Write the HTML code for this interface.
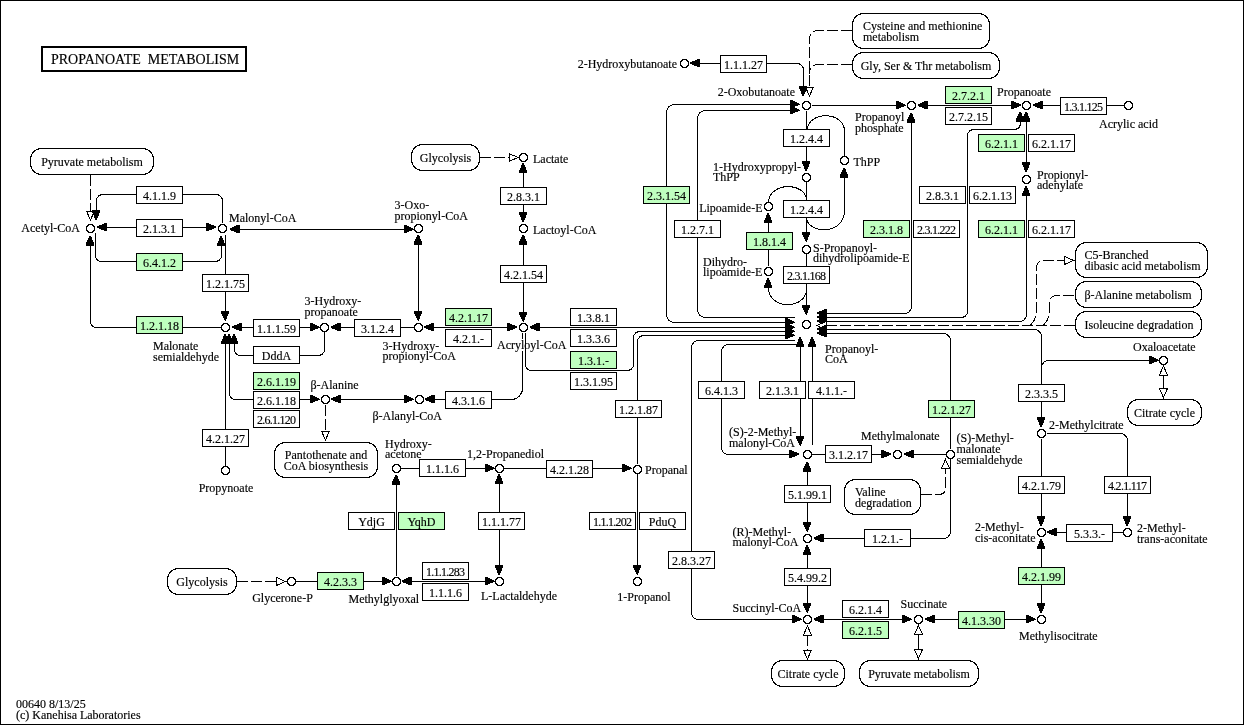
<!DOCTYPE html>
<html><head><meta charset="utf-8"><title>Propanoate metabolism</title>
<style>
html,body{margin:0;padding:0;background:#fff;}
svg{display:block;will-change:transform;}
svg text{font-family:"Liberation Serif",serif;font-size:12px;fill:#000;stroke:#000;stroke-width:0.15px;}
</style></head><body>
<svg width="1244" height="725" viewBox="0 0 1244 725">
<g shape-rendering="crispEdges">
<rect x="0.5" y="0.5" width="1243" height="724" fill="#fff" stroke="#000"/>
<rect x="41.5" y="46.5" width="204" height="24" fill="#fff" stroke="#000" stroke-width="2"/>
<rect x="30.5" y="148.5" width="123" height="26" rx="11" ry="11" fill="#fff" stroke="#000"/>
<path d="M90.5,175 L90.5,211" fill="none" stroke="#000" stroke-dasharray="11 3"/>
<polygon points="90.5,220 86.5,211 94.5,211" fill="#fff" stroke="#000"/>
<path d="M136,194.5 L103.50,194.50 Q96.5,194.5 96.50,201.50 L96.5,212" fill="none" stroke="#000"/>
<polygon points="95.6,220 92.0,212 92.0,210 100.0,210 100.0,212 96.9,220" fill="#000"/>
<path d="M183,194.5 L215.50,194.50 Q222.5,194.5 222.50,201.50 L222.5,223" fill="none" stroke="#000"/>
<rect x="136.5" y="186.5" width="46" height="17" fill="#fff" stroke="#000"/>
<path d="M100,227.5 L213,227.5" fill="none" stroke="#000"/>
<polygon points="97,226.6 105,223.0 107,223.0 107,231.0 105,231.0 97,227.9" fill="#000"/>
<polygon points="216,226.6 208,223.0 206,223.0 206,231.0 208,231.0 216,227.9" fill="#000"/>
<rect x="136.5" y="219.5" width="46" height="17" fill="#fff" stroke="#000"/>
<path d="M95.5,233 L95.50,254.50 Q95.5,261.5 102.50,261.50 L214.50,261.50 Q221.5,261.5 221.50,254.50 L221.5,244" fill="none" stroke="#000"/>
<polygon points="220.6,236 217.0,244 217.0,246 225.0,246 225.0,244 221.9,236" fill="#000"/>
<rect x="136.5" y="253.5" width="46" height="17" fill="#bfffbf" stroke="#000"/>
<path d="M90.5,244 L90.50,320.50 Q90.5,327.5 97.50,327.50 L221,327.5" fill="none" stroke="#000"/>
<polygon points="89.6,235.5 86.0,243.5 86.0,245.5 94.0,245.5 94.0,243.5 90.9,235.5" fill="#000"/>
<rect x="136.5" y="316.5" width="46" height="17" fill="#bfffbf" stroke="#000"/>
<path d="M235,229.5 L407,229.5" fill="none" stroke="#000"/>
<polygon points="229.5,228.6 237.5,225.0 239.5,225.0 239.5,233.0 237.5,233.0 229.5,229.9" fill="#000"/>
<polygon points="413.5,228.6 405.5,225.0 403.5,225.0 403.5,233.0 405.5,233.0 413.5,229.9" fill="#000"/>
<path d="M225.5,235 L225.5,312" fill="none" stroke="#000"/>
<polygon points="224.6,320.5 221.0,312.5 221.0,310.5 229.0,310.5 229.0,312.5 225.9,320.5" fill="#000"/>
<rect x="202.5" y="274.5" width="46" height="17" fill="#fff" stroke="#000"/>
<polygon points="88,224 93,224 93,225 94,225 94,226 95,226 95,231 94,231 94,232 93,232 93,233 88,233 88,232 87,232 87,231 86,231 86,226 87,226 87,225 88,225" fill="#000"/><polygon points="89,225 92,225 92,226 93,226 93,227 94,227 94,230 93,230 93,231 92,231 92,232 89,232 89,231 88,231 88,230 87,230 87,227 88,227 88,226 89,226" fill="#fff"/>
<polygon points="220,224 225,224 225,225 226,225 226,226 227,226 227,231 226,231 226,232 225,232 225,233 220,233 220,232 219,232 219,231 218,231 218,226 219,226 219,225 220,225" fill="#000"/><polygon points="221,225 224,225 224,226 225,226 225,227 226,227 226,230 225,230 225,231 224,231 224,232 221,232 221,231 220,231 220,230 219,230 219,227 220,227 220,226 221,226" fill="#fff"/>
<polygon points="416,224 421,224 421,225 422,225 422,226 423,226 423,231 422,231 422,232 421,232 421,233 416,233 416,232 415,232 415,231 414,231 414,226 415,226 415,225 416,225" fill="#000"/><polygon points="417,225 420,225 420,226 421,226 421,227 422,227 422,230 421,230 421,231 420,231 420,232 417,232 417,231 416,231 416,230 415,230 415,227 416,227 416,226 417,226" fill="#fff"/>
<path d="M238,327.5 L313,327.5" fill="none" stroke="#000"/>
<polygon points="232,326.6 240,323.0 242,323.0 242,331.0 240,331.0 232,327.9" fill="#000"/>
<polygon points="319.5,326.6 311.5,323.0 309.5,323.0 309.5,331.0 311.5,331.0 319.5,327.9" fill="#000"/>
<rect x="253.5" y="319.5" width="46" height="17" fill="#fff" stroke="#000"/>
<path d="M337,327.5 L414,327.5" fill="none" stroke="#000"/>
<polygon points="330.5,326.6 338.5,323.0 340.5,323.0 340.5,331.0 338.5,331.0 330.5,327.9" fill="#000"/>
<rect x="354.5" y="319.5" width="46" height="17" fill="#fff" stroke="#000"/>
<path d="M418.5,242 L418.5,312" fill="none" stroke="#000"/>
<polygon points="417.6,234.5 414.0,242.5 414.0,244.5 422.0,244.5 422.0,242.5 418.9,234.5" fill="#000"/>
<polygon points="417.6,320.5 414.0,312.5 414.0,310.5 422.0,310.5 422.0,312.5 418.9,320.5" fill="#000"/>
<path d="M430,327.5 L511,327.5" fill="none" stroke="#000"/>
<polygon points="424,326.6 432,323.0 434,323.0 434,331.0 432,331.0 424,327.9" fill="#000"/>
<polygon points="517,326.6 509,323.0 507,323.0 507,331.0 509,331.0 517,327.9" fill="#000"/>
<rect x="445.5" y="308.5" width="46" height="17" fill="#bfffbf" stroke="#000"/>
<rect x="445.5" y="329.5" width="46" height="17" fill="#fff" stroke="#000"/>
<path d="M324.5,332 L324.50,348.50 Q324.5,355.5 317.50,355.50 L241.50,355.50 Q234.5,355.5 234.50,348.50 L234.5,342" fill="none" stroke="#000"/>
<polygon points="233.6,334 230.0,342 230.0,344 238.0,344 238.0,342 234.9,334" fill="#000"/>
<rect x="253.5" y="346.5" width="46" height="17" fill="#fff" stroke="#000"/>
<path d="M229.5,342 L229.50,392.50 Q229.5,399.5 236.50,399.50 L313,399.5" fill="none" stroke="#000"/>
<polygon points="228.6,334 225.0,342 225.0,344 233.0,344 233.0,342 229.9,334" fill="#000"/>
<polygon points="319.5,398.6 311.5,395.0 309.5,395.0 309.5,403.0 311.5,403.0 319.5,399.9" fill="#000"/>
<rect x="253.5" y="372.5" width="46" height="17" fill="#bfffbf" stroke="#000"/>
<rect x="253.5" y="391.5" width="46" height="17" fill="#fff" stroke="#000"/>
<rect x="253.5" y="410.5" width="46" height="17" fill="#fff" stroke="#000"/>
<path d="M337,399.5 L407,399.5" fill="none" stroke="#000"/>
<polygon points="331,398.6 339,395.0 341,395.0 341,403.0 339,403.0 331,399.9" fill="#000"/>
<polygon points="413.5,398.6 405.5,395.0 403.5,395.0 403.5,403.0 405.5,403.0 413.5,399.9" fill="#000"/>
<path d="M430,399.5 L511.40,399.50 Q516,399.5 519.25,396.25 L519.25,396.25 Q522.5,393 522.50,388.40 L522.5,333" fill="none" stroke="#000"/>
<polygon points="424.5,398.6 432.5,395.0 434.5,395.0 434.5,403.0 432.5,403.0 424.5,399.9" fill="#000"/>
<rect x="445.5" y="391.5" width="46" height="17" fill="#fff" stroke="#000"/>
<path d="M225.5,342 L225.5,466" fill="none" stroke="#000"/>
<polygon points="224.6,334 221.0,342 221.0,344 229.0,344 229.0,342 225.9,334" fill="#000"/>
<rect x="202.5" y="429.5" width="46" height="17" fill="#fff" stroke="#000"/>
<path d="M325.5,405 L325.5,431" fill="none" stroke="#000" stroke-dasharray="11 3"/>
<polygon points="325.5,440 321.5,431 329.5,431" fill="#fff" stroke="#000"/>
<rect x="274.5" y="442.5" width="103" height="35" rx="11" ry="11" fill="#fff" stroke="#000"/>
<polygon points="223,323 228,323 228,324 229,324 229,325 230,325 230,330 229,330 229,331 228,331 228,332 223,332 223,331 222,331 222,330 221,330 221,325 222,325 222,324 223,324" fill="#000"/><polygon points="224,324 227,324 227,325 228,325 228,326 229,326 229,329 228,329 228,330 227,330 227,331 224,331 224,330 223,330 223,329 222,329 222,326 223,326 223,325 224,325" fill="#fff"/>
<polygon points="322,323 327,323 327,324 328,324 328,325 329,325 329,330 328,330 328,331 327,331 327,332 322,332 322,331 321,331 321,330 320,330 320,325 321,325 321,324 322,324" fill="#000"/><polygon points="323,324 326,324 326,325 327,325 327,326 328,326 328,329 327,329 327,330 326,330 326,331 323,331 323,330 322,330 322,329 321,329 321,326 322,326 322,325 323,325" fill="#fff"/>
<polygon points="416,323 421,323 421,324 422,324 422,325 423,325 423,330 422,330 422,331 421,331 421,332 416,332 416,331 415,331 415,330 414,330 414,325 415,325 415,324 416,324" fill="#000"/><polygon points="417,324 420,324 420,325 421,325 421,326 422,326 422,329 421,329 421,330 420,330 420,331 417,331 417,330 416,330 416,329 415,329 415,326 416,326 416,325 417,325" fill="#fff"/>
<polygon points="521,323 526,323 526,324 527,324 527,325 528,325 528,330 527,330 527,331 526,331 526,332 521,332 521,331 520,331 520,330 519,330 519,325 520,325 520,324 521,324" fill="#000"/><polygon points="522,324 525,324 525,325 526,325 526,326 527,326 527,329 526,329 526,330 525,330 525,331 522,331 522,330 521,330 521,329 520,329 520,326 521,326 521,325 522,325" fill="#fff"/>
<rect x="515" y="339" width="16" height="12" fill="#fff"/>
<polygon points="323,395 328,395 328,396 329,396 329,397 330,397 330,402 329,402 329,403 328,403 328,404 323,404 323,403 322,403 322,402 321,402 321,397 322,397 322,396 323,396" fill="#000"/><polygon points="324,396 327,396 327,397 328,397 328,398 329,398 329,401 328,401 328,402 327,402 327,403 324,403 324,402 323,402 323,401 322,401 322,398 323,398 323,397 324,397" fill="#fff"/>
<polygon points="417,395 422,395 422,396 423,396 423,397 424,397 424,402 423,402 423,403 422,403 422,404 417,404 417,403 416,403 416,402 415,402 415,397 416,397 416,396 417,396" fill="#000"/><polygon points="418,396 421,396 421,397 422,397 422,398 423,398 423,401 422,401 422,402 421,402 421,403 418,403 418,402 417,402 417,401 416,401 416,398 417,398 417,397 418,397" fill="#fff"/>
<polygon points="223,466 228,466 228,467 229,467 229,468 230,468 230,473 229,473 229,474 228,474 228,475 223,475 223,474 222,474 222,473 221,473 221,468 222,468 222,467 223,467" fill="#000"/><polygon points="224,467 227,467 227,468 228,468 228,469 229,469 229,472 228,472 228,473 227,473 227,474 224,474 224,473 223,473 223,472 222,472 222,469 223,469 223,468 224,468" fill="#fff"/>
<rect x="411.5" y="144.5" width="68" height="26" rx="11" ry="11" fill="#fff" stroke="#000"/>
<path d="M480,157.5 L509,157.5" fill="none" stroke="#000" stroke-dasharray="11 3"/>
<polygon points="518,157.5 509,153.5 509,161.5" fill="#fff" stroke="#000"/>
<path d="M523.5,171 L523.5,213" fill="none" stroke="#000"/>
<polygon points="522.6,163 519.0,171 519.0,173 527.0,173 527.0,171 523.9,163" fill="#000"/>
<polygon points="522.6,222 519.0,214 519.0,212 527.0,212 527.0,214 523.9,222" fill="#000"/>
<rect x="500.5" y="187.5" width="46" height="17" fill="#fff" stroke="#000"/>
<path d="M523.5,243 L523.5,313" fill="none" stroke="#000"/>
<polygon points="522.6,234.5 519.0,242.5 519.0,244.5 527.0,244.5 527.0,242.5 523.9,234.5" fill="#000"/>
<polygon points="522.6,321.5 519.0,313.5 519.0,311.5 527.0,311.5 527.0,313.5 523.9,321.5" fill="#000"/>
<rect x="500.5" y="265.5" width="46" height="17" fill="#fff" stroke="#000"/>
<polygon points="521,153 526,153 526,154 527,154 527,155 528,155 528,160 527,160 527,161 526,161 526,162 521,162 521,161 520,161 520,160 519,160 519,155 520,155 520,154 521,154" fill="#000"/><polygon points="522,154 525,154 525,155 526,155 526,156 527,156 527,159 526,159 526,160 525,160 525,161 522,161 522,160 521,160 521,159 520,159 520,156 521,156 521,155 522,155" fill="#fff"/>
<polygon points="521,224 526,224 526,225 527,225 527,226 528,226 528,231 527,231 527,232 526,232 526,233 521,233 521,232 520,232 520,231 519,231 519,226 520,226 520,225 521,225" fill="#000"/><polygon points="522,225 525,225 525,226 526,226 526,227 527,227 527,230 526,230 526,231 525,231 525,232 522,232 522,231 521,231 521,230 520,230 520,227 521,227 521,226 522,226" fill="#fff"/>
<path d="M538,327.5 L786,327.5" fill="none" stroke="#000"/>
<polygon points="529.5,326.6 537.5,323.0 539.5,323.0 539.5,331.0 537.5,331.0 529.5,327.9" fill="#000"/>
<polygon points="794.5,326.6 786.5,323.0 784.5,323.0 784.5,331.0 786.5,331.0 794.5,327.9" fill="#000"/>
<rect x="570.5" y="308.5" width="46" height="17" fill="#fff" stroke="#000"/>
<rect x="570.5" y="329.5" width="46" height="17" fill="#fff" stroke="#000"/>
<path d="M525.5,333 L525.50,363.50 Q525.5,370.5 532.50,370.50 L626.50,370.50 Q633.5,370.5 633.50,363.50 L633.50,338.50 Q633.5,331.5 640.50,331.50 L786,331.5" fill="none" stroke="#000"/>
<polygon points="794.5,330.6 786.5,327.0 784.5,327.0 784.5,335.0 786.5,335.0 794.5,331.9" fill="#000"/>
<rect x="570.5" y="351.5" width="46" height="17" fill="#bfffbf" stroke="#000"/>
<rect x="570.5" y="372.5" width="46" height="17" fill="#fff" stroke="#000"/>
<path d="M786,335.5 L644.50,335.50 Q637.5,335.5 637.50,342.50 L637.5,464" fill="none" stroke="#000"/>
<polygon points="794.5,334.6 786.5,331.0 784.5,331.0 784.5,339.0 786.5,339.0 794.5,335.9" fill="#000"/>
<rect x="615.5" y="400.5" width="46" height="17" fill="#fff" stroke="#000"/>
<path d="M637.5,474 L637.5,566" fill="none" stroke="#000"/>
<polygon points="636.6,574.5 633.0,566.5 633.0,564.5 641.0,564.5 641.0,566.5 637.9,574.5" fill="#000"/>
<rect x="589.5" y="512.5" width="46" height="17" fill="#fff" stroke="#000"/>
<rect x="639.5" y="512.5" width="46" height="17" fill="#fff" stroke="#000"/>
<polygon points="635,465 640,465 640,466 641,466 641,467 642,467 642,472 641,472 641,473 640,473 640,474 635,474 635,473 634,473 634,472 633,472 633,467 634,467 634,466 635,466" fill="#000"/><polygon points="636,466 639,466 639,467 640,467 640,468 641,468 641,471 640,471 640,472 639,472 639,473 636,473 636,472 635,472 635,471 634,471 634,468 635,468 635,467 636,467" fill="#fff"/>
<polygon points="635,577 640,577 640,578 641,578 641,579 642,579 642,584 641,584 641,585 640,585 640,586 635,586 635,585 634,585 634,584 633,584 633,579 634,579 634,578 635,578" fill="#000"/><polygon points="636,578 639,578 639,579 640,579 640,580 641,580 641,583 640,583 640,584 639,584 639,585 636,585 636,584 635,584 635,583 634,583 634,580 635,580 635,579 636,579" fill="#fff"/>
<path d="M401,468.5 L486,468.5" fill="none" stroke="#000"/>
<polygon points="494.5,467.6 486.5,464.0 484.5,464.0 484.5,472.0 486.5,472.0 494.5,468.9" fill="#000"/>
<rect x="419.5" y="459.5" width="46" height="17" fill="#fff" stroke="#000"/>
<path d="M504,468.5 L623,468.5" fill="none" stroke="#000"/>
<polygon points="631.5,467.6 623.5,464.0 621.5,464.0 621.5,472.0 623.5,472.0 631.5,468.9" fill="#000"/>
<rect x="546.5" y="460.5" width="46" height="17" fill="#fff" stroke="#000"/>
<path d="M396.5,576 L396.5,483" fill="none" stroke="#000"/>
<polygon points="395.6,474.5 392.0,482.5 392.0,484.5 400.0,484.5 400.0,482.5 396.9,474.5" fill="#000"/>
<rect x="348.5" y="512.5" width="46" height="17" fill="#fff" stroke="#000"/>
<rect x="398.5" y="512.5" width="46" height="17" fill="#bfffbf" stroke="#000"/>
<path d="M499.5,482 L499.5,566" fill="none" stroke="#000"/>
<polygon points="498.6,474 495.0,482 495.0,484 503.0,484 503.0,482 499.9,474" fill="#000"/>
<polygon points="498.6,575 495.0,567 495.0,565 503.0,565 503.0,567 499.9,575" fill="#000"/>
<rect x="478.5" y="512.5" width="46" height="17" fill="#fff" stroke="#000"/>
<path d="M408,581.5 L488,581.5" fill="none" stroke="#000"/>
<polygon points="401.5,580.6 409.5,577.0 411.5,577.0 411.5,585.0 409.5,585.0 401.5,581.9" fill="#000"/>
<polygon points="494.5,580.6 486.5,577.0 484.5,577.0 484.5,585.0 486.5,585.0 494.5,581.9" fill="#000"/>
<rect x="422.5" y="562.5" width="46" height="17" fill="#fff" stroke="#000"/>
<rect x="422.5" y="583.5" width="46" height="17" fill="#fff" stroke="#000"/>
<path d="M296,581.5 L383,581.5" fill="none" stroke="#000"/>
<polygon points="391.5,580.6 383.5,577.0 381.5,577.0 381.5,585.0 383.5,585.0 391.5,581.9" fill="#000"/>
<rect x="317.5" y="572.5" width="46" height="17" fill="#bfffbf" stroke="#000"/>
<rect x="167.5" y="568.5" width="69" height="26" rx="11" ry="11" fill="#fff" stroke="#000"/>
<path d="M237,581.5 L277,581.5" fill="none" stroke="#000" stroke-dasharray="11 3"/>
<polygon points="285.5,581.5 276.5,577.5 276.5,585.5" fill="#fff" stroke="#000"/>
<polygon points="394,464 399,464 399,465 400,465 400,466 401,466 401,471 400,471 400,472 399,472 399,473 394,473 394,472 393,472 393,471 392,471 392,466 393,466 393,465 394,465" fill="#000"/><polygon points="395,465 398,465 398,466 399,466 399,467 400,467 400,470 399,470 399,471 398,471 398,472 395,472 395,471 394,471 394,470 393,470 393,467 394,467 394,466 395,466" fill="#fff"/>
<polygon points="497,464 502,464 502,465 503,465 503,466 504,466 504,471 503,471 503,472 502,472 502,473 497,473 497,472 496,472 496,471 495,471 495,466 496,466 496,465 497,465" fill="#000"/><polygon points="498,465 501,465 501,466 502,466 502,467 503,467 503,470 502,470 502,471 501,471 501,472 498,472 498,471 497,471 497,470 496,470 496,467 497,467 497,466 498,466" fill="#fff"/>
<polygon points="289,577 294,577 294,578 295,578 295,579 296,579 296,584 295,584 295,585 294,585 294,586 289,586 289,585 288,585 288,584 287,584 287,579 288,579 288,578 289,578" fill="#000"/><polygon points="290,578 293,578 293,579 294,579 294,580 295,580 295,583 294,583 294,584 293,584 293,585 290,585 290,584 289,584 289,583 288,583 288,580 289,580 289,579 290,579" fill="#fff"/>
<polygon points="394,577 399,577 399,578 400,578 400,579 401,579 401,584 400,584 400,585 399,585 399,586 394,586 394,585 393,585 393,584 392,584 392,579 393,579 393,578 394,578" fill="#000"/><polygon points="395,578 398,578 398,579 399,579 399,580 400,580 400,583 399,583 399,584 398,584 398,585 395,585 395,584 394,584 394,583 393,583 393,580 394,580 394,579 395,579" fill="#fff"/>
<polygon points="497,577 502,577 502,578 503,578 503,579 504,579 504,584 503,584 503,585 502,585 502,586 497,586 497,585 496,585 496,584 495,584 495,579 496,579 496,578 497,578" fill="#000"/><polygon points="498,578 501,578 501,579 502,579 502,580 503,580 503,583 502,583 502,584 501,584 501,585 498,585 498,584 497,584 497,583 496,583 496,580 497,580 497,579 498,579" fill="#fff"/>
<path d="M699,63.5 L720,63.5" fill="none" stroke="#000"/>
<polygon points="690,62.6 698,59.0 700,59.0 700,67.0 698,67.0 690,63.9" fill="#000"/>
<rect x="720.5" y="55.5" width="46" height="17" fill="#fff" stroke="#000"/>
<path d="M767,63.5 L796.50,63.50 Q803.5,63.5 803.50,70.50 L803.5,88" fill="none" stroke="#000"/>
<polygon points="802.6,96 799.0,88 799.0,86 807.0,86 807.0,88 803.9,96" fill="#000"/>
<rect x="852.5" y="13.5" width="137" height="35" rx="11" ry="11" fill="#fff" stroke="#000"/>
<rect x="852.5" y="52.5" width="147" height="26" rx="11" ry="11" fill="#fff" stroke="#000"/>
<path d="M852,30.5 L818.50,30.50 Q809.5,30.5 809.50,39.50 L809.5,88" fill="none" stroke="#000" stroke-dasharray="11 3"/>
<path d="M852,64.5 L818.50,64.50 Q809.5,64.5 809.50,73.50 L809.5,74" fill="none" stroke="#000" stroke-dasharray="11 3"/>
<polygon points="809.5,96 805.5,87 813.5,87" fill="#fff" stroke="#000"/>
<path d="M666.5,186 L666.50,113.50 Q666.5,104.5 675.50,104.50 L791,104.5" fill="none" stroke="#000"/>
<polygon points="799.5,103.6 791.5,100.0 789.5,100.0 789.5,108.0 791.5,108.0 799.5,104.9" fill="#000"/>
<path d="M666.5,203 L666.50,313.50 Q666.5,322.5 675.50,322.50 L786,322.5" fill="none" stroke="#000"/>
<polygon points="794.5,321.6 786.5,318.0 784.5,318.0 784.5,326.0 786.5,326.0 794.5,322.9" fill="#000"/>
<rect x="643.5" y="186.5" width="46" height="17" fill="#bfffbf" stroke="#000"/>
<path d="M697.5,220 L697.50,119.50 Q697.5,110.5 706.50,110.50 L791,110.5" fill="none" stroke="#000"/>
<polygon points="799.5,109.6 791.5,106.0 789.5,106.0 789.5,114.0 791.5,114.0 799.5,110.9" fill="#000"/>
<path d="M697.5,237 L697.50,308.50 Q697.5,317.5 706.50,317.50 L794.5,317.5" fill="none" stroke="#000"/>
<rect x="674.5" y="220.5" width="46" height="17" fill="#fff" stroke="#000"/>
<path d="M812,105.5 L897,105.5" fill="none" stroke="#000"/>
<polygon points="905.5,104.6 897.5,101.0 895.5,101.0 895.5,109.0 897.5,109.0 905.5,105.9" fill="#000"/>
<path d="M923,105.5 L1013,105.5" fill="none" stroke="#000"/>
<polygon points="917.5,104.6 925.5,101.0 927.5,101.0 927.5,109.0 925.5,109.0 917.5,105.9" fill="#000"/>
<polygon points="1021,104.6 1013,101.0 1011,101.0 1011,109.0 1013,109.0 1021,105.9" fill="#000"/>
<rect x="945.5" y="86.5" width="46" height="17" fill="#bfffbf" stroke="#000"/>
<rect x="945.5" y="107.5" width="46" height="17" fill="#fff" stroke="#000"/>
<path d="M1040,105.5 L1124,105.5" fill="none" stroke="#000"/>
<polygon points="1033,104.6 1041,101.0 1043,101.0 1043,109.0 1041,109.0 1033,105.9" fill="#000"/>
<rect x="1060.5" y="97.5" width="46" height="17" fill="#fff" stroke="#000"/>
<polygon points="1126,101 1131,101 1131,102 1132,102 1132,103 1133,103 1133,108 1132,108 1132,109 1131,109 1131,110 1126,110 1126,109 1125,109 1125,108 1124,108 1124,103 1125,103 1125,102 1126,102" fill="#000"/><polygon points="1127,102 1130,102 1130,103 1131,103 1131,104 1132,104 1132,107 1131,107 1131,108 1130,108 1130,109 1127,109 1127,108 1126,108 1126,107 1125,107 1125,104 1126,104 1126,103 1127,103" fill="#fff"/>
<path d="M806.5,111 L806.5,163" fill="none" stroke="#000"/>
<polygon points="805.6,171 802.0,163 802.0,161 810.0,161 810.0,163 806.9,171" fill="#000"/>
<rect x="783.5" y="129.5" width="46" height="17" fill="#fff" stroke="#000"/>
<path d="M807.5,129 C809,111 844,111 844.5,131 L844.5,156" fill="none" stroke="#000"/>
<path d="M844.5,176 L844.5,210 C844.5,236 808,234 806.5,218" fill="none" stroke="#000"/>
<polygon points="843.6,167.5 840.0,175.5 840.0,177.5 848.0,177.5 848.0,175.5 844.9,167.5" fill="#000"/>
<path d="M806.5,182 L806.5,233" fill="none" stroke="#000"/>
<polygon points="805.6,241.5 802.0,233.5 802.0,231.5 810.0,231.5 810.0,233.5 806.9,241.5" fill="#000"/>
<rect x="783.5" y="200.5" width="46" height="17" fill="#fff" stroke="#000"/>
<path d="M768.5,202 C770,182 804,182 806.5,199" fill="none" stroke="#000"/>
<path d="M768.5,266 L768.5,221" fill="none" stroke="#000"/>
<polygon points="767.6,213 764.0,221 764.0,223 772.0,223 772.0,221 768.9,213" fill="#000"/>
<rect x="746.5" y="232.5" width="46" height="17" fill="#bfffbf" stroke="#000"/>
<path d="M768.5,287 C768,310 805,310 806.5,290" fill="none" stroke="#000"/>
<polygon points="767.6,278 764.0,286 764.0,288 772.0,288 772.0,286 768.9,278" fill="#000"/>
<path d="M806.5,254 L806.5,306" fill="none" stroke="#000"/>
<polygon points="805.6,314.5 802.0,306.5 802.0,304.5 810.0,304.5 810.0,306.5 806.9,314.5" fill="#000"/>
<rect x="783.5" y="266.5" width="46" height="17" fill="#fff" stroke="#000"/>
<polygon points="682,59 687,59 687,60 688,60 688,61 689,61 689,66 688,66 688,67 687,67 687,68 682,68 682,67 681,67 681,66 680,66 680,61 681,61 681,60 682,60" fill="#000"/><polygon points="683,60 686,60 686,61 687,61 687,62 688,62 688,65 687,65 687,66 686,66 686,67 683,67 683,66 682,66 682,65 681,65 681,62 682,62 682,61 683,61" fill="#fff"/>
<polygon points="804,101 809,101 809,102 810,102 810,103 811,103 811,108 810,108 810,109 809,109 809,110 804,110 804,109 803,109 803,108 802,108 802,103 803,103 803,102 804,102" fill="#000"/><polygon points="805,102 808,102 808,103 809,103 809,104 810,104 810,107 809,107 809,108 808,108 808,109 805,109 805,108 804,108 804,107 803,107 803,104 804,104 804,103 805,103" fill="#fff"/>
<polygon points="909,101 914,101 914,102 915,102 915,103 916,103 916,108 915,108 915,109 914,109 914,110 909,110 909,109 908,109 908,108 907,108 907,103 908,103 908,102 909,102" fill="#000"/><polygon points="910,102 913,102 913,103 914,103 914,104 915,104 915,107 914,107 914,108 913,108 913,109 910,109 910,108 909,108 909,107 908,107 908,104 909,104 909,103 910,103" fill="#fff"/>
<polygon points="1024,101 1029,101 1029,102 1030,102 1030,103 1031,103 1031,108 1030,108 1030,109 1029,109 1029,110 1024,110 1024,109 1023,109 1023,108 1022,108 1022,103 1023,103 1023,102 1024,102" fill="#000"/><polygon points="1025,102 1028,102 1028,103 1029,103 1029,104 1030,104 1030,107 1029,107 1029,108 1028,108 1028,109 1025,109 1025,108 1024,108 1024,107 1023,107 1023,104 1024,104 1024,103 1025,103" fill="#fff"/>
<polygon points="804,173 809,173 809,174 810,174 810,175 811,175 811,180 810,180 810,181 809,181 809,182 804,182 804,181 803,181 803,180 802,180 802,175 803,175 803,174 804,174" fill="#000"/><polygon points="805,174 808,174 808,175 809,175 809,176 810,176 810,179 809,179 809,180 808,180 808,181 805,181 805,180 804,180 804,179 803,179 803,176 804,176 804,175 805,175" fill="#fff"/>
<polygon points="842,156 847,156 847,157 848,157 848,158 849,158 849,163 848,163 848,164 847,164 847,165 842,165 842,164 841,164 841,163 840,163 840,158 841,158 841,157 842,157" fill="#000"/><polygon points="843,157 846,157 846,158 847,158 847,159 848,159 848,162 847,162 847,163 846,163 846,164 843,164 843,163 842,163 842,162 841,162 841,159 842,159 842,158 843,158" fill="#fff"/>
<polygon points="766,202 771,202 771,203 772,203 772,204 773,204 773,209 772,209 772,210 771,210 771,211 766,211 766,210 765,210 765,209 764,209 764,204 765,204 765,203 766,203" fill="#000"/><polygon points="767,203 770,203 770,204 771,204 771,205 772,205 772,208 771,208 771,209 770,209 770,210 767,210 767,209 766,209 766,208 765,208 765,205 766,205 766,204 767,204" fill="#fff"/>
<polygon points="766,267 771,267 771,268 772,268 772,269 773,269 773,274 772,274 772,275 771,275 771,276 766,276 766,275 765,275 765,274 764,274 764,269 765,269 765,268 766,268" fill="#000"/><polygon points="767,268 770,268 770,269 771,269 771,270 772,270 772,273 771,273 771,274 770,274 770,275 767,275 767,274 766,274 766,273 765,273 765,270 766,270 766,269 767,269" fill="#fff"/>
<polygon points="804,245 809,245 809,246 810,246 810,247 811,247 811,252 810,252 810,253 809,253 809,254 804,254 804,253 803,253 803,252 802,252 802,247 803,247 803,246 804,246" fill="#000"/><polygon points="805,246 808,246 808,247 809,247 809,248 810,248 810,251 809,251 809,252 808,252 808,253 805,253 805,252 804,252 804,251 803,251 803,248 804,248 804,247 805,247" fill="#fff"/>
<path d="M911.5,121 L911.50,305.50 Q911.5,313.5 903.50,313.50 L826,313.5" fill="none" stroke="#000"/>
<polygon points="910.6,112.5 907.0,120.5 907.0,122.5 915.0,122.5 915.0,120.5 911.9,112.5" fill="#000"/>
<polygon points="817,312.6 825,309.0 827,309.0 827,317.0 825,317.0 817,313.9" fill="#000"/>
<rect x="863.5" y="220.5" width="46" height="17" fill="#bfffbf" stroke="#000"/>
<rect x="913.5" y="220.5" width="46" height="17" fill="#fff" stroke="#000"/>
<path d="M1020.5,120 L1020.50,122.50 Q1020.5,129.5 1013.50,129.50 L974.50,129.50 Q967.5,129.5 967.50,136.50 L967.50,310.50 Q967.5,317.5 960.50,317.50 L826,317.5" fill="none" stroke="#000"/>
<polygon points="1019.6,111.5 1016.0,119.5 1016.0,121.5 1024.0,121.5 1024.0,119.5 1020.9,111.5" fill="#000"/>
<polygon points="817,316.6 825,313.0 827,313.0 827,321.0 825,321.0 817,317.9" fill="#000"/>
<rect x="919.5" y="186.5" width="46" height="17" fill="#fff" stroke="#000"/>
<rect x="969.5" y="186.5" width="46" height="17" fill="#fff" stroke="#000"/>
<path d="M1026.5,120 L1026.5,163" fill="none" stroke="#000"/>
<polygon points="1025.6,111.5 1022.0,119.5 1022.0,121.5 1030.0,121.5 1030.0,119.5 1026.9,111.5" fill="#000"/>
<polygon points="1025.6,172 1022.0,164 1022.0,162 1030.0,162 1030.0,164 1026.9,172" fill="#000"/>
<rect x="978.5" y="134.5" width="46" height="17" fill="#bfffbf" stroke="#000"/>
<rect x="1028.5" y="134.5" width="46" height="17" fill="#fff" stroke="#000"/>
<path d="M1026.5,195 L1026.50,313.50 Q1026.5,321.5 1018.50,321.50 L826,321.5" fill="none" stroke="#000"/>
<polygon points="1025.6,186 1022.0,194 1022.0,196 1030.0,196 1030.0,194 1026.9,186" fill="#000"/>
<polygon points="817,320.6 825,317.0 827,317.0 827,325.0 825,325.0 817,321.9" fill="#000"/>
<rect x="978.5" y="220.5" width="46" height="17" fill="#bfffbf" stroke="#000"/>
<rect x="1028.5" y="220.5" width="46" height="17" fill="#fff" stroke="#000"/>
<polygon points="1024,175 1029,175 1029,176 1030,176 1030,177 1031,177 1031,182 1030,182 1030,183 1029,183 1029,184 1024,184 1024,183 1023,183 1023,182 1022,182 1022,177 1023,177 1023,176 1024,176" fill="#000"/><polygon points="1025,176 1028,176 1028,177 1029,177 1029,178 1030,178 1030,181 1029,181 1029,182 1028,182 1028,183 1025,183 1025,182 1024,182 1024,181 1023,181 1023,178 1024,178 1024,177 1025,177" fill="#fff"/>
<path d="M826,325.5 L1075,325.5" fill="none" stroke="#000" stroke-dasharray="11 3"/>
<polygon points="817,325.5 826,321.5 826,329.5" fill="#fff" stroke="#000"/>
<path d="M1030,325.5 L1030.84,324.66 Q1036.5,319 1036.50,311.00 L1036.50,268.50 Q1036.5,260.5 1044.50,260.50 L1064,260.5" fill="none" stroke="#000" stroke-dasharray="11 3"/>
<polygon points="1073.5,260.5 1064.5,256.5 1064.5,264.5" fill="#fff" stroke="#000"/>
<path d="M1043,325.5 L1043.84,324.66 Q1049.5,319 1049.50,311.00 L1049.50,303.50 Q1049.5,295.5 1057.50,295.50 L1075,295.5" fill="none" stroke="#000" stroke-dasharray="11 3"/>
<rect x="1075.5" y="242.5" width="132" height="35" rx="11" ry="11" fill="#fff" stroke="#000"/>
<rect x="1075.5" y="281.5" width="126" height="26" rx="11" ry="11" fill="#fff" stroke="#000"/>
<rect x="1075.5" y="311.5" width="126" height="26" rx="11" ry="11" fill="#fff" stroke="#000"/>
<path d="M826,329.5 L1033.50,329.50 Q1041.5,329.5 1041.50,337.50 L1041.5,418" fill="none" stroke="#000"/>
<polygon points="817,328.6 825,325.0 827,325.0 827,333.0 825,333.0 817,329.9" fill="#000"/>
<path d="M1041.5,372 L1041.50,368.50 Q1041.5,360.5 1049.50,360.50 L1150,360.5" fill="none" stroke="#000"/>
<polygon points="1158.5,359.6 1150.5,356.0 1148.5,356.0 1148.5,364.0 1150.5,364.0 1158.5,360.9" fill="#000"/>
<polygon points="1040.6,427 1037.0,419 1037.0,417 1045.0,417 1045.0,419 1041.9,427" fill="#000"/>
<rect x="1018.5" y="384.5" width="46" height="17" fill="#fff" stroke="#000"/>
<polygon points="1161,356 1166,356 1166,357 1167,357 1167,358 1168,358 1168,363 1167,363 1167,364 1166,364 1166,365 1161,365 1161,364 1160,364 1160,363 1159,363 1159,358 1160,358 1160,357 1161,357" fill="#000"/><polygon points="1162,357 1165,357 1165,358 1166,358 1166,359 1167,359 1167,362 1166,362 1166,363 1165,363 1165,364 1162,364 1162,363 1161,363 1161,362 1160,362 1160,359 1161,359 1161,358 1162,358" fill="#fff"/>
<polygon points="1163.5,366 1159.5,375 1167.5,375" fill="#fff" stroke="#000"/>
<path d="M1163.5,375 L1163.5,389" fill="none" stroke="#000"/>
<polygon points="1163.5,397.5 1159.5,388.5 1167.5,388.5" fill="#fff" stroke="#000"/>
<rect x="1127.5" y="399.5" width="74" height="26" rx="11" ry="11" fill="#fff" stroke="#000"/>
<path d="M826,333.5 L942.50,333.50 Q950.5,333.5 950.50,341.50 L950.5,449" fill="none" stroke="#000"/>
<polygon points="817,332.6 825,329.0 827,329.0 827,337.0 825,337.0 817,333.9" fill="#000"/>
<rect x="928.5" y="400.5" width="46" height="17" fill="#bfffbf" stroke="#000"/>
<path d="M800.5,346 L800.5,437" fill="none" stroke="#000"/>
<polygon points="799.6,337 796.0,345 796.0,347 804.0,347 804.0,345 800.9,337" fill="#000"/>
<polygon points="799.6,445.5 796.0,437.5 796.0,435.5 804.0,435.5 804.0,437.5 800.9,445.5" fill="#000"/>
<path d="M812.5,346 L812.5,445" fill="none" stroke="#000"/>
<polygon points="811.6,337 808.0,345 808.0,347 816.0,347 816.0,345 812.9,337" fill="#000"/>
<path d="M796,344.5 L729.50,344.50 Q721.5,344.5 721.50,352.50 L721.50,446.50 Q721.5,454.5 729.50,454.50 L790,454.5" fill="none" stroke="#000"/>
<polygon points="799,453.6 791,450.0 789,450.0 789,458.0 791,458.0 799,454.9" fill="#000"/>
<rect x="698.5" y="381.5" width="46" height="17" fill="#fff" stroke="#000"/>
<rect x="759.5" y="381.5" width="46" height="17" fill="#fff" stroke="#000"/>
<rect x="808.5" y="381.5" width="46" height="17" fill="#fff" stroke="#000"/>
<path d="M794.5,340.5 L699.50,340.50 Q691.5,340.5 691.50,348.50 L691.50,611.50 Q691.5,619.5 699.50,619.50 L793,619.5" fill="none" stroke="#000"/>
<polygon points="801.5,618.6 793.5,615.0 791.5,615.0 791.5,623.0 793.5,623.0 801.5,619.9" fill="#000"/>
<rect x="668.5" y="551.5" width="46" height="17" fill="#fff" stroke="#000"/>
<path d="M812,454.5 L882,454.5" fill="none" stroke="#000"/>
<polygon points="891,453.6 883,450.0 881,450.0 881,458.0 883,458.0 891,454.9" fill="#000"/>
<rect x="825.5" y="445.5" width="46" height="17" fill="#fff" stroke="#000"/>
<path d="M913,454.5 L946,454.5" fill="none" stroke="#000"/>
<polygon points="904,453.6 912,450.0 914,450.0 914,458.0 912,458.0 904,454.9" fill="#000"/>
<rect x="844.5" y="479.5" width="76" height="35" rx="11" ry="11" fill="#fff" stroke="#000"/>
<path d="M921,494.5 L938.50,494.50 Q945.5,494.5 945.50,487.50 L945.5,468" fill="none" stroke="#000" stroke-dasharray="11 3"/>
<polygon points="945.5,459.5 941.5,468.5 949.5,468.5" fill="#fff" stroke="#000"/>
<path d="M807.5,470 L807.5,523" fill="none" stroke="#000"/>
<polygon points="806.6,461.5 803.0,469.5 803.0,471.5 811.0,471.5 811.0,469.5 807.9,461.5" fill="#000"/>
<polygon points="806.6,531.5 803.0,523.5 803.0,521.5 811.0,521.5 811.0,523.5 807.9,531.5" fill="#000"/>
<rect x="784.5" y="485.5" width="46" height="17" fill="#fff" stroke="#000"/>
<path d="M822,538.5 L942.50,538.50 Q950.5,538.5 950.50,530.50 L950.5,459" fill="none" stroke="#000"/>
<polygon points="813.5,537.6 821.5,534.0 823.5,534.0 823.5,542.0 821.5,542.0 813.5,538.9" fill="#000"/>
<rect x="864.5" y="529.5" width="46" height="17" fill="#fff" stroke="#000"/>
<path d="M807.5,553 L807.5,604" fill="none" stroke="#000"/>
<polygon points="806.6,545 803.0,553 803.0,555 811.0,555 811.0,553 807.9,545" fill="#000"/>
<polygon points="806.6,612.5 803.0,604.5 803.0,602.5 811.0,602.5 811.0,604.5 807.9,612.5" fill="#000"/>
<rect x="784.5" y="568.5" width="46" height="17" fill="#fff" stroke="#000"/>
<path d="M822,619.5 L903,619.5" fill="none" stroke="#000"/>
<polygon points="813.5,618.6 821.5,615.0 823.5,615.0 823.5,623.0 821.5,623.0 813.5,619.9" fill="#000"/>
<polygon points="911.5,618.6 903.5,615.0 901.5,615.0 901.5,623.0 903.5,623.0 911.5,619.9" fill="#000"/>
<rect x="842.5" y="600.5" width="46" height="17" fill="#fff" stroke="#000"/>
<rect x="842.5" y="621.5" width="46" height="17" fill="#bfffbf" stroke="#000"/>
<path d="M933,619.5 L1027,619.5" fill="none" stroke="#000"/>
<polygon points="925,618.6 933,615.0 935,615.0 935,623.0 933,623.0 925,619.9" fill="#000"/>
<polygon points="1035.5,618.6 1027.5,615.0 1025.5,615.0 1025.5,623.0 1027.5,623.0 1035.5,619.9" fill="#000"/>
<rect x="958.5" y="611.5" width="46" height="17" fill="#bfffbf" stroke="#000"/>
<polygon points="807.5,626 803.5,635 811.5,635" fill="#fff" stroke="#000"/>
<path d="M807.5,635 L807.5,650" fill="none" stroke="#000" stroke-dasharray="11 3"/>
<polygon points="807.5,659 803.5,650 811.5,650" fill="#fff" stroke="#000"/>
<rect x="771.5" y="660.5" width="73" height="26" rx="11" ry="11" fill="#fff" stroke="#000"/>
<polygon points="918.5,625.5 914.5,634.5 922.5,634.5" fill="#fff" stroke="#000"/>
<path d="M918.5,634 L918.5,649" fill="none" stroke="#000"/>
<polygon points="918.5,658.5 914.5,649.5 922.5,649.5" fill="#fff" stroke="#000"/>
<rect x="859.5" y="660.5" width="119" height="26" rx="11" ry="11" fill="#fff" stroke="#000"/>
<path d="M1041.5,439 L1041.5,517" fill="none" stroke="#000"/>
<polygon points="1040.6,526 1037.0,518 1037.0,516 1045.0,516 1045.0,518 1041.9,526" fill="#000"/>
<rect x="1018.5" y="476.5" width="46" height="17" fill="#fff" stroke="#000"/>
<path d="M1047,433.5 L1119.50,433.50 Q1127.5,433.5 1127.50,441.50 L1127.5,517" fill="none" stroke="#000"/>
<polygon points="1126.6,526 1123.0,518 1123.0,516 1131.0,516 1131.0,518 1127.9,526" fill="#000"/>
<rect x="1104.5" y="476.5" width="46" height="17" fill="#fff" stroke="#000"/>
<path d="M1055,532.5 L1123,532.5" fill="none" stroke="#000"/>
<polygon points="1047,531.6 1055,528.0 1057,528.0 1057,536.0 1055,536.0 1047,532.9" fill="#000"/>
<rect x="1066.5" y="524.5" width="46" height="17" fill="#fff" stroke="#000"/>
<path d="M1041.5,548 L1041.5,604" fill="none" stroke="#000"/>
<polygon points="1040.6,539 1037.0,547 1037.0,549 1045.0,549 1045.0,547 1041.9,539" fill="#000"/>
<polygon points="1040.6,613 1037.0,605 1037.0,603 1045.0,603 1045.0,605 1041.9,613" fill="#000"/>
<rect x="1018.5" y="567.5" width="46" height="17" fill="#bfffbf" stroke="#000"/>
<polygon points="804,320 809,320 809,321 810,321 810,322 811,322 811,327 810,327 810,328 809,328 809,329 804,329 804,328 803,328 803,327 802,327 802,322 803,322 803,321 804,321" fill="#000"/><polygon points="805,321 808,321 808,322 809,322 809,323 810,323 810,326 809,326 809,327 808,327 808,328 805,328 805,327 804,327 804,326 803,326 803,323 804,323 804,322 805,322" fill="#fff"/>
<polygon points="1039,429 1044,429 1044,430 1045,430 1045,431 1046,431 1046,436 1045,436 1045,437 1044,437 1044,438 1039,438 1039,437 1038,437 1038,436 1037,436 1037,431 1038,431 1038,430 1039,430" fill="#000"/><polygon points="1040,430 1043,430 1043,431 1044,431 1044,432 1045,432 1045,435 1044,435 1044,436 1043,436 1043,437 1040,437 1040,436 1039,436 1039,435 1038,435 1038,432 1039,432 1039,431 1040,431" fill="#fff"/>
<polygon points="805,450 810,450 810,451 811,451 811,452 812,452 812,457 811,457 811,458 810,458 810,459 805,459 805,458 804,458 804,457 803,457 803,452 804,452 804,451 805,451" fill="#000"/><polygon points="806,451 809,451 809,452 810,452 810,453 811,453 811,456 810,456 810,457 809,457 809,458 806,458 806,457 805,457 805,456 804,456 804,453 805,453 805,452 806,452" fill="#fff"/>
<polygon points="895,450 900,450 900,451 901,451 901,452 902,452 902,457 901,457 901,458 900,458 900,459 895,459 895,458 894,458 894,457 893,457 893,452 894,452 894,451 895,451" fill="#000"/><polygon points="896,451 899,451 899,452 900,452 900,453 901,453 901,456 900,456 900,457 899,457 899,458 896,458 896,457 895,457 895,456 894,456 894,453 895,453 895,452 896,452" fill="#fff"/>
<polygon points="948,450 953,450 953,451 954,451 954,452 955,452 955,457 954,457 954,458 953,458 953,459 948,459 948,458 947,458 947,457 946,457 946,452 947,452 947,451 948,451" fill="#000"/><polygon points="949,451 952,451 952,452 953,452 953,453 954,453 954,456 953,456 953,457 952,457 952,458 949,458 949,457 948,457 948,456 947,456 947,453 948,453 948,452 949,452" fill="#fff"/>
<polygon points="805,534 810,534 810,535 811,535 811,536 812,536 812,541 811,541 811,542 810,542 810,543 805,543 805,542 804,542 804,541 803,541 803,536 804,536 804,535 805,535" fill="#000"/><polygon points="806,535 809,535 809,536 810,536 810,537 811,537 811,540 810,540 810,541 809,541 809,542 806,542 806,541 805,541 805,540 804,540 804,537 805,537 805,536 806,536" fill="#fff"/>
<polygon points="1039,528 1044,528 1044,529 1045,529 1045,530 1046,530 1046,535 1045,535 1045,536 1044,536 1044,537 1039,537 1039,536 1038,536 1038,535 1037,535 1037,530 1038,530 1038,529 1039,529" fill="#000"/><polygon points="1040,529 1043,529 1043,530 1044,530 1044,531 1045,531 1045,534 1044,534 1044,535 1043,535 1043,536 1040,536 1040,535 1039,535 1039,534 1038,534 1038,531 1039,531 1039,530 1040,530" fill="#fff"/>
<polygon points="1125,528 1130,528 1130,529 1131,529 1131,530 1132,530 1132,535 1131,535 1131,536 1130,536 1130,537 1125,537 1125,536 1124,536 1124,535 1123,535 1123,530 1124,530 1124,529 1125,529" fill="#000"/><polygon points="1126,529 1129,529 1129,530 1130,530 1130,531 1131,531 1131,534 1130,534 1130,535 1129,535 1129,536 1126,536 1126,535 1125,535 1125,534 1124,534 1124,531 1125,531 1125,530 1126,530" fill="#fff"/>
<polygon points="1039,615 1044,615 1044,616 1045,616 1045,617 1046,617 1046,622 1045,622 1045,623 1044,623 1044,624 1039,624 1039,623 1038,623 1038,622 1037,622 1037,617 1038,617 1038,616 1039,616" fill="#000"/><polygon points="1040,616 1043,616 1043,617 1044,617 1044,618 1045,618 1045,621 1044,621 1044,622 1043,622 1043,623 1040,623 1040,622 1039,622 1039,621 1038,621 1038,618 1039,618 1039,617 1040,617" fill="#fff"/>
<polygon points="805,615 810,615 810,616 811,616 811,617 812,617 812,622 811,622 811,623 810,623 810,624 805,624 805,623 804,623 804,622 803,622 803,617 804,617 804,616 805,616" fill="#000"/><polygon points="806,616 809,616 809,617 810,617 810,618 811,618 811,621 810,621 810,622 809,622 809,623 806,623 806,622 805,622 805,621 804,621 804,618 805,618 805,617 806,617" fill="#fff"/>
<polygon points="916,615 921,615 921,616 922,616 922,617 923,617 923,622 922,622 922,623 921,623 921,624 916,624 916,623 915,623 915,622 914,622 914,617 915,617 915,616 916,616" fill="#000"/><polygon points="917,616 920,616 920,617 921,617 921,618 922,618 922,621 921,621 921,622 920,622 920,623 917,623 917,622 916,622 916,621 915,621 915,618 916,618 916,617 917,617" fill="#fff"/>
</g>
<g>
<text x="51" y="64" style="font-size:14px" xml:space="preserve">PROPANOATE  METABOLISM</text>
<text x="16" y="707.5">00640 8/13/25</text>
<text x="16" y="718.5">(c) Kanehisa Laboratories</text>
<text x="92.0" y="166.0" text-anchor="middle">Pyruvate metabolism</text>
<text x="159.5" y="200" text-anchor="middle">4.1.1.9</text>
<text x="159.5" y="233" text-anchor="middle">2.1.3.1</text>
<text x="159.5" y="267" text-anchor="middle">6.4.1.2</text>
<text x="159.5" y="330" text-anchor="middle">1.2.1.18</text>
<text x="225.5" y="288" text-anchor="middle">1.2.1.75</text>
<text x="80" y="232.0" text-anchor="end">Acetyl-CoA</text>
<text x="229" y="222.0">Malonyl-CoA</text>
<text x="394.5" y="209.0">3-Oxo-</text>
<text x="394.5" y="219.8">propionyl-CoA</text>
<text x="276.5" y="333" text-anchor="middle">1.1.1.59</text>
<text x="377.5" y="333" text-anchor="middle">3.1.2.4</text>
<text x="468.5" y="322" text-anchor="middle">4.2.1.17</text>
<text x="468.5" y="343" text-anchor="middle">4.2.1.-</text>
<text x="276.5" y="360" text-anchor="middle">DddA</text>
<text x="276.5" y="386" text-anchor="middle">2.6.1.19</text>
<text x="276.5" y="405" text-anchor="middle">2.6.1.18</text>
<text x="276.5" y="424" text-anchor="middle" textLength="39" lengthAdjust="spacing">2.6.1.120</text>
<text x="468.5" y="405" text-anchor="middle">4.3.1.6</text>
<text x="225.5" y="443" text-anchor="middle">4.2.1.27</text>
<text x="326.0" y="459.1" text-anchor="middle">Pantothenate and</text>
<text x="326.0" y="469.9" text-anchor="middle">CoA biosynthesis</text>
<text x="153" y="350.0">Malonate</text>
<text x="153" y="360.8">semialdehyde</text>
<text x="304.5" y="305.0">3-Hydroxy-</text>
<text x="304.5" y="315.8">propanoate</text>
<text x="382.5" y="349.5">3-Hydroxy-</text>
<text x="382.5" y="360.3">propionyl-CoA</text>
<text x="497" y="348.5">Acryloyl-CoA</text>
<text x="310.5" y="389.0">β-Alanine</text>
<text x="372.5" y="420.0">β-Alanyl-CoA</text>
<text x="226" y="492.0" text-anchor="middle">Propynoate</text>
<text x="445.5" y="162.0" text-anchor="middle">Glycolysis</text>
<text x="523.5" y="201" text-anchor="middle">2.8.3.1</text>
<text x="523.5" y="279" text-anchor="middle">4.2.1.54</text>
<text x="533" y="163.0">Lactate</text>
<text x="533" y="233.5">Lactoyl-CoA</text>
<text x="593.5" y="322" text-anchor="middle">1.3.8.1</text>
<text x="593.5" y="343" text-anchor="middle">1.3.3.6</text>
<text x="593.5" y="365" text-anchor="middle">1.3.1.-</text>
<text x="593.5" y="386" text-anchor="middle">1.3.1.95</text>
<text x="638.5" y="414" text-anchor="middle">1.2.1.87</text>
<text x="612.5" y="526" text-anchor="middle" textLength="39" lengthAdjust="spacing">1.1.1.202</text>
<text x="662.5" y="526" text-anchor="middle">PduQ</text>
<text x="645" y="474.0">Propanal</text>
<text x="644" y="601.0" text-anchor="middle">1-Propanol</text>
<text x="442.5" y="473" text-anchor="middle">1.1.1.6</text>
<text x="569.5" y="474" text-anchor="middle">4.2.1.28</text>
<text x="371.5" y="526" text-anchor="middle">YdjG</text>
<text x="421.5" y="526" text-anchor="middle">YqhD</text>
<text x="501.5" y="526" text-anchor="middle">1.1.1.77</text>
<text x="445.5" y="576" text-anchor="middle" textLength="39" lengthAdjust="spacing">1.1.1.283</text>
<text x="445.5" y="597" text-anchor="middle">1.1.1.6</text>
<text x="340.5" y="586" text-anchor="middle">4.2.3.3</text>
<text x="202.0" y="586.0" text-anchor="middle">Glycolysis</text>
<text x="385" y="447.5">Hydroxy-</text>
<text x="385" y="458.3">acetone</text>
<text x="467" y="457.5">1,2-Propanediol</text>
<text x="282.5" y="602.0" text-anchor="middle">Glycerone-P</text>
<text x="348.5" y="603.0">Methylglyoxal</text>
<text x="481" y="600.0">L-Lactaldehyde</text>
<text x="743.5" y="69" text-anchor="middle">1.1.1.27</text>
<text x="863" y="30.1">Cysteine and methionine</text>
<text x="863" y="40.9">metabolism</text>
<text x="926.0" y="70.0" text-anchor="middle">Gly, Ser &amp; Thr metabolism</text>
<text x="666.5" y="200" text-anchor="middle">2.3.1.54</text>
<text x="697.5" y="234" text-anchor="middle">1.2.7.1</text>
<text x="968.5" y="100" text-anchor="middle">2.7.2.1</text>
<text x="968.5" y="121" text-anchor="middle">2.7.2.15</text>
<text x="1083.5" y="111" text-anchor="middle" textLength="39" lengthAdjust="spacing">1.3.1.125</text>
<text x="1099" y="127.5">Acrylic acid</text>
<text x="806.5" y="143" text-anchor="middle">1.2.4.4</text>
<text x="806.5" y="214" text-anchor="middle">1.2.4.4</text>
<text x="769.5" y="246" text-anchor="middle">1.8.1.4</text>
<text x="806.5" y="280" text-anchor="middle" textLength="39" lengthAdjust="spacing">2.3.1.168</text>
<text x="677" y="67.5" text-anchor="end">2-Hydroxybutanoate</text>
<text x="795" y="95.5" text-anchor="end">2-Oxobutanoate</text>
<text x="855" y="121.0">Propanoyl</text>
<text x="855" y="131.8">phosphate</text>
<text x="997" y="95.5">Propanoate</text>
<text x="713" y="170.5">1-Hydroxypropyl-</text>
<text x="713" y="181.3">ThPP</text>
<text x="853.5" y="165.5">ThPP</text>
<text x="762.5" y="211.5" text-anchor="end">Lipoamide-E</text>
<text x="703" y="265.5">Dihydro-</text>
<text x="703" y="276.3">lipoamide-E</text>
<text x="813" y="251.5">S-Propanoyl-</text>
<text x="813" y="262.3">dihydrolipoamide-E</text>
<text x="886.5" y="234" text-anchor="middle">2.3.1.8</text>
<text x="936.5" y="234" text-anchor="middle" textLength="39" lengthAdjust="spacing">2.3.1.222</text>
<text x="942.5" y="200" text-anchor="middle">2.8.3.1</text>
<text x="992.5" y="200" text-anchor="middle">6.2.1.13</text>
<text x="1001.5" y="148" text-anchor="middle">6.2.1.1</text>
<text x="1051.5" y="148" text-anchor="middle">6.2.1.17</text>
<text x="1001.5" y="234" text-anchor="middle">6.2.1.1</text>
<text x="1051.5" y="234" text-anchor="middle">6.2.1.17</text>
<text x="1037" y="178.5">Propionyl-</text>
<text x="1037" y="189.3">adenylate</text>
<text x="1084.5" y="259.1">C5-Branched</text>
<text x="1084.5" y="269.9">dibasic acid metabolism</text>
<text x="1084.5" y="299.0">β-Alanine metabolism</text>
<text x="1084.5" y="329.0">Isoleucine degradation</text>
<text x="1041.5" y="398" text-anchor="middle">2.3.3.5</text>
<text x="1133" y="351.0">Oxaloacetate</text>
<text x="1164.5" y="417.0" text-anchor="middle">Citrate cycle</text>
<text x="951.5" y="414" text-anchor="middle">1.2.1.27</text>
<text x="721.5" y="395" text-anchor="middle">6.4.1.3</text>
<text x="782.5" y="395" text-anchor="middle">2.1.3.1</text>
<text x="831.5" y="395" text-anchor="middle">4.1.1.-</text>
<text x="691.5" y="565" text-anchor="middle">2.8.3.27</text>
<text x="848.5" y="459" text-anchor="middle">3.1.2.17</text>
<text x="855" y="496.1">Valine</text>
<text x="855" y="506.9">degradation</text>
<text x="807.5" y="499" text-anchor="middle">5.1.99.1</text>
<text x="887.5" y="543" text-anchor="middle">1.2.1.-</text>
<text x="807.5" y="582" text-anchor="middle">5.4.99.2</text>
<text x="865.5" y="614" text-anchor="middle">6.2.1.4</text>
<text x="865.5" y="635" text-anchor="middle">6.2.1.5</text>
<text x="981.5" y="625" text-anchor="middle">4.1.3.30</text>
<text x="808.0" y="678.0" text-anchor="middle">Citrate cycle</text>
<text x="919.0" y="678.0" text-anchor="middle">Pyruvate metabolism</text>
<text x="1041.5" y="490" text-anchor="middle">4.2.1.79</text>
<text x="1127.5" y="490" text-anchor="middle" textLength="39" lengthAdjust="spacing">4.2.1.117</text>
<text x="1089.5" y="538" text-anchor="middle">5.3.3.-</text>
<text x="1041.5" y="581" text-anchor="middle">4.2.1.99</text>
<text x="825" y="352.5">Propanoyl-</text>
<text x="825" y="363.3">CoA</text>
<text x="1049" y="428.5">2-Methylcitrate</text>
<text x="729" y="436.0">(S)-2-Methyl-</text>
<text x="729" y="446.8">malonyl-CoA</text>
<text x="861" y="439.5">Methylmalonate</text>
<text x="956.5" y="442.0">(S)-Methyl-</text>
<text x="956.5" y="452.8">malonate</text>
<text x="956.5" y="463.6">semialdehyde</text>
<text x="732.5" y="535.5">(R)-Methyl-</text>
<text x="732.5" y="546.3">malonyl-CoA</text>
<text x="975" y="531.0">2-Methyl-</text>
<text x="975" y="541.5">cis-aconitate</text>
<text x="1137" y="532.0">2-Methyl-</text>
<text x="1137" y="542.8">trans-aconitate</text>
<text x="1019" y="640.0">Methylisocitrate</text>
<text x="732.5" y="611.5">Succinyl-CoA</text>
<text x="900.5" y="607.5">Succinate</text>
</g>
</svg>
</body></html>
